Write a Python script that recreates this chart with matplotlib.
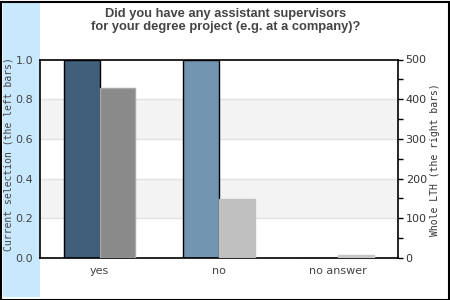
import matplotlib
matplotlib.use("Agg")
import matplotlib.pyplot as plt
from matplotlib.patches import Rectangle
from matplotlib.ticker import MultipleLocator
import numpy as np

categories = ["yes", "no", "no answer"]
selection = [1.0, 1.0, 0.0]
whole_lth = [427, 148, 8]
sel_colors = ["#3f5f7b", "#7295b1", "#a9c2d6"]
lth_colors = ["#8a8a8a", "#c0c0c0", "#c8c8c8"]
lth_edges = ["#a8a8a8", "#c0c0c0", "#c8c8c8"]
title = "Did you have any assistant supervisors\nfor your degree project (e.g. at a company)?"

W, H = 450, 300
fig = plt.figure(figsize=(W / 100, H / 100), dpi=100)
fig.patch.set_facecolor("white")

# light blue strip on the left
fig.patches.append(Rectangle((3 / W, 3 / H), 37 / W, 294 / H, transform=fig.transFigure,
                             facecolor="#c8e8fe", edgecolor="none", zorder=-5))
# border
fig.patches.append(Rectangle((0.5 / W, 0.5 / H), 448 / W, 298 / H, transform=fig.transFigure,
                             facecolor="none", edgecolor="black", linewidth=1.5, zorder=5))

ax = fig.add_axes([40 / W, (H - 258) / H, 358 / W, (258 - 59.5) / H])
ax.set_xlim(-0.5, 2.5)
ax.set_ylim(0, 1)
for lo, hi in [(0.2, 0.4), (0.6, 0.8)]:
    ax.axhspan(lo, hi, color="#f3f3f3", zorder=0, lw=0)
for g in [0.2, 0.4, 0.6, 0.8]:
    ax.axhline(g, color="#e2e2e2", lw=1, zorder=0.5)

x = np.arange(len(categories))
w = 0.3
ax.bar(x - w / 2, selection, width=w, color=sel_colors, edgecolor="black", linewidth=1, zorder=2)
ax.set_xticks(x)
ax.set_xticklabels(categories)
ax.set_yticks([0, 0.2, 0.4, 0.6, 0.8, 1.0])
ax.set_yticklabels(["0.0", "0.2", "0.4", "0.6", "0.8", "1.0"])
ax.tick_params(axis="y", length=0, labelsize=8, labelcolor="#444444", pad=5)
ax.tick_params(axis="x", length=0, labelsize=8, labelcolor="#444444", pad=6)
for s in ax.spines.values():
    s.set_color("black")
    s.set_linewidth(1.2)

ax2 = ax.twinx()
ax2.set_ylim(0, 500)
ax2.bar(x + w / 2, whole_lth, width=w, color=lth_colors, edgecolor=lth_edges, linewidth=1, zorder=2)
ax2.yaxis.set_major_locator(MultipleLocator(100))
ax2.yaxis.set_minor_locator(MultipleLocator(50))
ax2.tick_params(axis="y", which="both", direction="out", length=3.5, width=1, color="black",
                labelsize=8, labelcolor="#333333", pad=2)
for s in ax2.spines.values():
    s.set_visible(False)

fig.text(225.5 / W, 1 - 20.5 / H, title, ha="center", va="center", fontsize=9.3,
         fontweight="bold", color="#444444", family="Liberation Sans", linespacing=1.15)
fig.text(9 / W, 1 - 154 / H, "Current selection (the left bars)", rotation=90,
         ha="center", va="center", fontsize=7, family="DejaVu Sans Mono", color="#444444")
fig.text(435 / W, 1 - 160 / H, "Whole LTH (the right bars)", rotation=90,
         ha="center", va="center", fontsize=7, family="DejaVu Sans Mono", color="#333333")

fig.savefig("out.png", dpi=100)
